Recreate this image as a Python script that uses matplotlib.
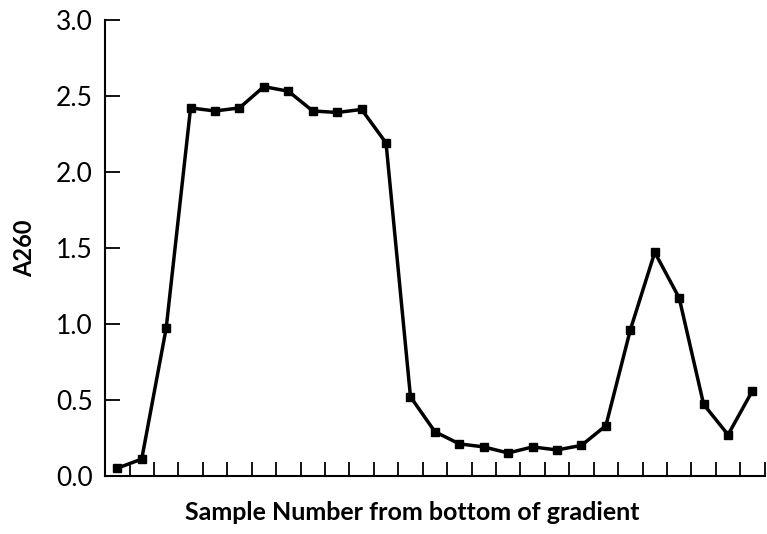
import numpy as np
import matplotlib
matplotlib.use("Agg")
import matplotlib.pyplot as plt

plt.rcParams['font.family'] = ['Lato', 'DejaVu Sans']

# sample numbers and absorbance
samples = np.arange(1, 28)
a260 = [0.05, 0.11, 0.97, 2.42, 2.40, 2.42, 2.56, 2.53, 2.40, 2.39,
        2.41, 2.19, 0.52, 0.29, 0.21, 0.19, 0.15, 0.19, 0.17, 0.20,
        0.33, 0.96, 1.47, 1.17, 0.47, 0.27, 0.56]
yticks = [0.0, 0.5, 1.0, 1.5, 2.0, 2.5, 3.0]
ytick_labels = ['0.0', '0.5', '1.0', '1.5', '2.0', '2.5', '3.0']

fig = plt.figure(figsize=(7.67, 5.34), dpi=100)
ax = fig.add_axes([0.137, 0.109, 0.860, 0.854])

ax.plot(samples, a260, color='black', lw=2.5, marker='s', ms=6,
        mfc='black', mec='black', clip_on=False, zorder=3)

ax.set_xlim(0.5, 27.5)
ax.set_ylim(0, 3.0)

# ticks sit between the samples
ax.set_xticks(samples + 0.5)
ax.set_xticklabels([])
ax.set_yticks(yticks)
ax.set_yticklabels(ytick_labels)

ax.spines['top'].set_visible(False)
ax.spines['right'].set_visible(False)
ax.spines['left'].set_linewidth(1.5)
ax.spines['bottom'].set_linewidth(1.5)
ax.tick_params(axis='x', direction='in', length=10, width=1.3)
ax.tick_params(axis='y', direction='in', length=11, width=1.3, pad=9,
               labelsize=19)

ax.set_ylabel('A260', fontsize=17, fontweight='bold', labelpad=14)
ax.set_xlabel('Sample Number from bottom of gradient', fontsize=18,
              fontweight='bold')
ax.xaxis.set_label_coords(0.465, -0.055, transform=ax.transAxes)
ax.xaxis.label.set_va('top')

fig.savefig('out.png', dpi=100)
